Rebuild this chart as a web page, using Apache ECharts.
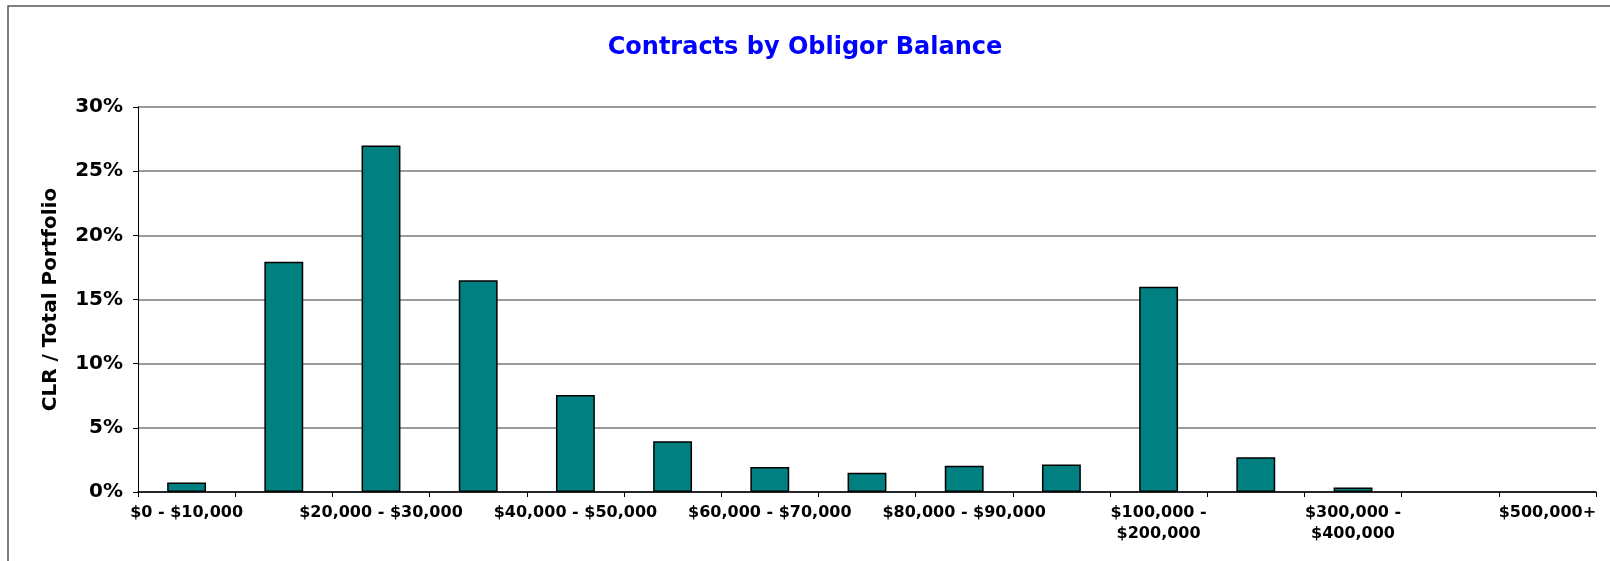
<!DOCTYPE html>
<html>
<head>
<meta charset="utf-8">
<script src="https://cdn.jsdelivr.net/npm/echarts@6/dist/echarts.min.js"></script>
<style>
  html, body { margin: 0; padding: 0; background: #fff; }
  #main { width: 1610px; height: 561px; }
</style>
</head>
<body>
<div id="main"></div>
<script>
// balance buckets
var categories = ['$0 - $10,000', '$10,000 - $20,000', '$20,000 - $30,000', '$30,000 - $40,000',
  '$40,000 - $50,000', '$50,000 - $60,000', '$60,000 - $70,000', '$70,000 - $80,000',
  '$80,000 - $90,000', '$90,000 - $100,000', '$100,000 - $200,000', '$200,000 - $300,000',
  '$300,000 - $400,000', '$400,000 - $500,000', '$500,000+'];
// CLR / total portfolio, in percent
var shares = [0.75, 17.95, 27.0, 16.5, 7.55, 3.95, 1.95, 1.5, 2.05, 2.15, 16.0, 2.7, 0.35, 0, 0];
var yTicks = [0, 5, 10, 15, 20, 25, 30];

var chart = echarts.init(document.getElementById('main'));
var font = 'DejaVu Sans';
var option = {
  animation: false,
  title: {
    text: 'Contracts by Obligor Balance',
    left: 'center',
    top: 31,
    textStyle: { color: '#0000ff', fontSize: 24, fontWeight: 'bold', fontFamily: font }
  },
  graphic: [{
    type: 'polyline',
    shape: { points: [[8, 561], [8, 6], [1610, 6]] },
    style: { stroke: '#555', lineWidth: 1.5, fill: null }
  }],
  grid: { left: 138, right: 14, top: 107, bottom: 69 },
  xAxis: {
    type: 'category',
    data: categories,
    axisLine: { lineStyle: { color: '#000', width: 1.5 } },
    axisTick: { show: true, length: 5, interval: 0, lineStyle: { color: '#000' } },
    axisLabel: {
      interval: 1,
      margin: 10,
      color: '#000',
      fontSize: 16,
      fontWeight: 'bold',
      fontFamily: font,
      lineHeight: 21,
      formatter: function (v) {
        return v.length > 17 ? v.replace(' - ', ' -\n') : v;
      }
    }
  },
  yAxis: {
    type: 'value',
    min: yTicks[0],
    max: yTicks[yTicks.length - 1],
    interval: 5,
    name: 'CLR / Total Portfolio',
    nameLocation: 'middle',
    nameGap: 77,
    nameTextStyle: { color: '#000', fontSize: 20, fontWeight: 'bold', fontFamily: font },
    axisLine: { show: true, lineStyle: { color: '#000', width: 1 } },
    axisTick: { show: true, length: 5, lineStyle: { color: '#000' } },
    axisLabel: {
      margin: 15,
      color: '#000',
      fontSize: 20,
      fontWeight: 'bold',
      fontFamily: font,
      formatter: '{value}%'
    },
    splitLine: { show: true, lineStyle: { color: '#7a7a7a', width: 1.5 } }
  },
  series: [{
    type: 'bar',
    data: shares.map(function (v) {
      // empty buckets draw no outline
      return v > 0 ? v : { value: v, itemStyle: { borderWidth: 0 } };
    }),
    barWidth: '40%',
    itemStyle: { color: '#008080', borderColor: '#000', borderWidth: 1.5 }
  }]
};
chart.setOption(option);
</script>
</body>
</html>
